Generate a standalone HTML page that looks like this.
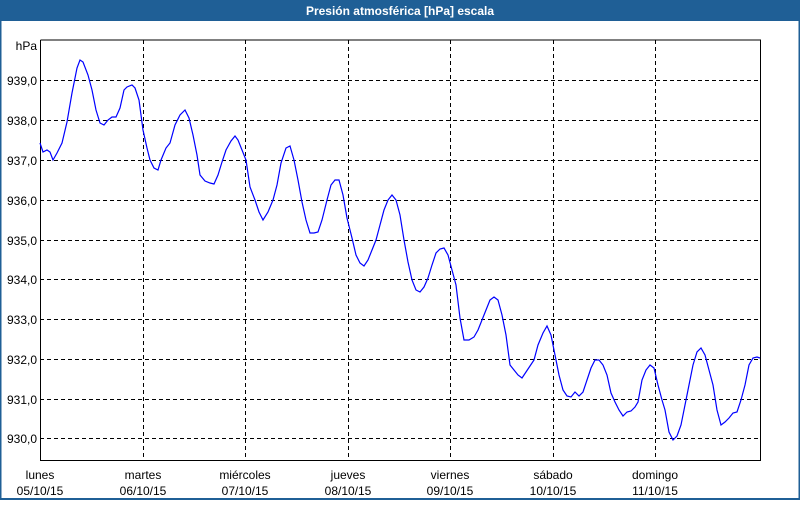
<!DOCTYPE html>
<html><head><meta charset="utf-8"><style>
body{margin:0;width:800px;height:500px;overflow:hidden;background:#fff;font-family:"Liberation Sans",sans-serif}
</style></head><body>
<svg width="800" height="500" xmlns="http://www.w3.org/2000/svg" font-family="Liberation Sans, sans-serif">
<rect x="0" y="0" width="800" height="500" fill="#fff"/>
<rect x="0" y="0" width="800" height="21" fill="#1f5f96"/>
<rect x="0.5" y="0.5" width="799" height="498.5" fill="none" stroke="#1f5f96" stroke-width="2"/>
<text x="400" y="15" fill="#fff" font-size="12" font-weight="bold" text-anchor="middle">Presión atmosférica [hPa] escala</text>
<g stroke="#000" stroke-width="1" stroke-dasharray="4,3" fill="none">
<path d="M40 80.5H760M40 120.5H760M40 160.5H760M40 200.5H760M40 240.5H760M40 279.5H760M40 319.5H760M40 359.5H760M40 399.5H760M40 438.5H760"/>
<path d="M143.5 40V460M245.5 40V460M348.5 40V460M450.5 40V460M553.5 40V460M655.5 40V460"/>
</g>
<path d="M40.5 40V460.5H760.5V40H40.5" fill="none" stroke="#000"/>
<g font-size="12" fill="#000" text-anchor="end">
<text x="37" y="50">hPa</text>
<text x="37" y="85">939,0</text><text x="37" y="125">938,0</text><text x="37" y="165">937,0</text><text x="37" y="205">936,0</text><text x="37" y="245">935,0</text><text x="37" y="284">934,0</text><text x="37" y="324">933,0</text><text x="37" y="364">932,0</text><text x="37" y="404">931,0</text><text x="37" y="443">930,0</text>
</g>
<g font-size="12" fill="#000" text-anchor="middle">
<text x="40" y="479">lunes</text><text x="40" y="495">05/10/15</text>
<text x="143" y="479">martes</text><text x="143" y="495">06/10/15</text>
<text x="245" y="479">miércoles</text><text x="245" y="495">07/10/15</text>
<text x="348" y="479">jueves</text><text x="348" y="495">08/10/15</text>
<text x="450" y="479">viernes</text><text x="450" y="495">09/10/15</text>
<text x="553" y="479">sábado</text><text x="553" y="495">10/10/15</text>
<text x="655" y="479">domingo</text><text x="655" y="495">11/10/15</text>
</g>
<polyline fill="none" stroke="#0000ff" stroke-width="1.2" points="40,143 43,152 47,150 50,152 53,160 57,153 62,143 67,122 72,93 77,68 80,60 83,62 88,75 92,90 96,110 100,123 104,125 108,120 112,117 116,117 120,108 124,90 127,87 132,85 135,88 139,100 143,130 147,148 150,160 154,168 158,170 161,160 166,148 170,143 175,125 180,115 185,110 189,118 193,135 197,155 200,175 205,181 210,183 214,184 218,175 222,162 226,150 231,141 235,136 238,140 242,150 246,160 250,187 255,200 259,212 263,220 268,212 273,200 277,185 281,163 286,148 290,146 294,160 298,180 302,202 306,220 310,233 314,233 318,232 322,220 327,200 331,185 335,180 339,180 343,195 347,218 352,238 356,255 360,263 364,266 368,260 372,250 376,240 380,225 384,210 388,200 392,195 396,200 400,215 404,240 408,262 412,280 416,290 420,292 424,287 428,278 432,265 436,253 440,249 444,248 448,255 452,270 456,285 460,318 464,340 469,340 474,337 478,330 482,320 486,310 490,300 494,297 498,300 502,315 506,335 510,365 514,370 518,375 522,378 526,372 530,366 534,360 538,345 543,333 547,326 551,335 555,355 559,375 563,390 567,396 571,397 575,392 579,396 583,392 587,380 591,368 595,360 599,360 603,365 607,375 611,393 615,402 619,410 623,416 627,412 631,411 635,407 638,402 642,380 646,370 650,365 654,368 658,385 662,400 665,410 669,432 673,440 677,436 681,425 685,405 689,385 693,365 697,352 701,348 705,355 709,370 713,385 717,410 721,425 725,422 729,418 733,413 737,412 741,400 745,385 749,365 753,358 757,357 760,358"/>
</svg>
</body></html>
